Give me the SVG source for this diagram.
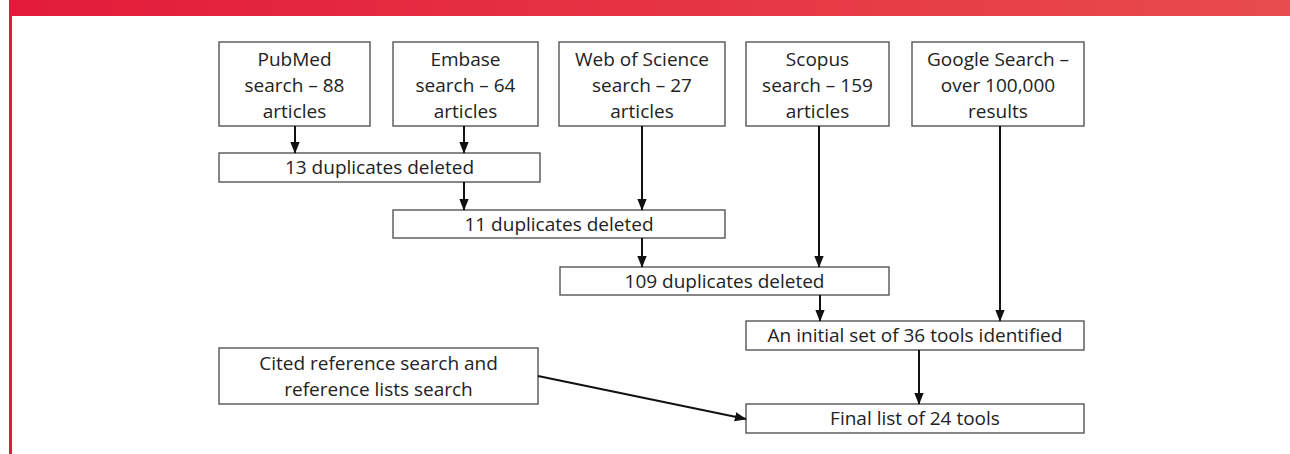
<svg xmlns="http://www.w3.org/2000/svg" width="1290" height="454" viewBox="0 0 1290 454">
<defs>
<linearGradient id="banner" x1="0" y1="0" x2="1" y2="0">
<stop offset="0" stop-color="#e31b3b"/>
<stop offset="1" stop-color="#e84c4c"/>
</linearGradient>
<marker id="ah" markerWidth="12" markerHeight="14" viewBox="0 0 14 12" refX="13" refY="6" orient="auto" markerUnits="userSpaceOnUse">
<path d="M0,0.5 L14,6 L0,11.5 Z" fill="#111"/>
</marker>
<style>
.box{fill:#fff;stroke:#555;stroke-width:1.4}
.t{font-family:"Open Sans","Noto Sans","Liberation Sans",sans-serif;font-size:19px;fill:#222;text-anchor:middle}
.c{stroke:#111;stroke-width:2;fill:none;marker-end:url(#ah)}
</style>
</defs>
<rect x="0" y="0" width="1290" height="454" fill="#fff"/>
<rect x="9" y="0" width="1281" height="16" fill="url(#banner)"/>
<rect x="9" y="16" width="3" height="438" fill="#e31b3b"/>

<g id="pubmed"><rect class="box" x="219" y="42" width="151" height="84"/>
<text class="t" x="294.5" y="66">PubMed</text><text class="t" x="294.5" y="92">search – 88</text><text class="t" x="294.5" y="118">articles</text></g>
<g id="embase"><rect class="box" x="393" y="42" width="145" height="84"/>
<text class="t" x="465.5" y="66">Embase</text><text class="t" x="465.5" y="92">search – 64</text><text class="t" x="465.5" y="118">articles</text></g>
<g id="wos"><rect class="box" x="559" y="42" width="166" height="84"/>
<text class="t" x="642" y="66">Web of Science</text><text class="t" x="642" y="92">search – 27</text><text class="t" x="642" y="118">articles</text></g>
<g id="scopus"><rect class="box" x="746" y="42" width="143" height="84"/>
<text class="t" x="817.5" y="66">Scopus</text><text class="t" x="817.5" y="92">search – 159</text><text class="t" x="817.5" y="118">articles</text></g>
<g id="google"><rect class="box" x="912" y="42" width="172" height="84"/>
<text class="t" x="998" y="66">Google Search –</text><text class="t" x="998" y="92">over 100,000</text><text class="t" x="998" y="118">results</text></g>

<g id="dup13"><rect class="box" x="219" y="153" width="321" height="29"/>
<text class="t" x="379.5" y="174">13 duplicates deleted</text></g>
<g id="dup11"><rect class="box" x="393" y="210" width="332" height="28"/>
<text class="t" x="559" y="231">11 duplicates deleted</text></g>
<g id="dup109"><rect class="box" x="560" y="267" width="329" height="28"/>
<text class="t" x="724.5" y="288">109 duplicates deleted</text></g>
<g id="initial"><rect class="box" x="746" y="321" width="338" height="29"/>
<text class="t" x="915" y="342">An initial set of 36 tools identified</text></g>
<g id="cited"><rect class="box" x="219" y="348" width="319" height="56"/>
<text class="t" x="378.5" y="370">Cited reference search and</text><text class="t" x="378.5" y="396">reference lists search</text></g>
<g id="final"><rect class="box" x="746" y="404" width="338" height="29"/>
<text class="t" x="915" y="425">Final list of 24 tools</text></g>

<g id="connectors">
<line class="c" x1="295" y1="126" x2="295" y2="153"/>
<line class="c" x1="464" y1="126" x2="464" y2="153"/>
<line class="c" x1="464" y1="182" x2="464" y2="210"/>
<line class="c" x1="642" y1="126" x2="642" y2="210"/>
<line class="c" x1="642" y1="238" x2="642" y2="267"/>
<line class="c" x1="819" y1="126" x2="819" y2="267"/>
<line class="c" x1="820" y1="295" x2="820" y2="321"/>
<line class="c" x1="1000" y1="126" x2="1000" y2="321"/>
<line class="c" x1="919" y1="350" x2="919" y2="404"/>
<line class="c" x1="538" y1="376" x2="746" y2="419"/>
</g>
</svg>
